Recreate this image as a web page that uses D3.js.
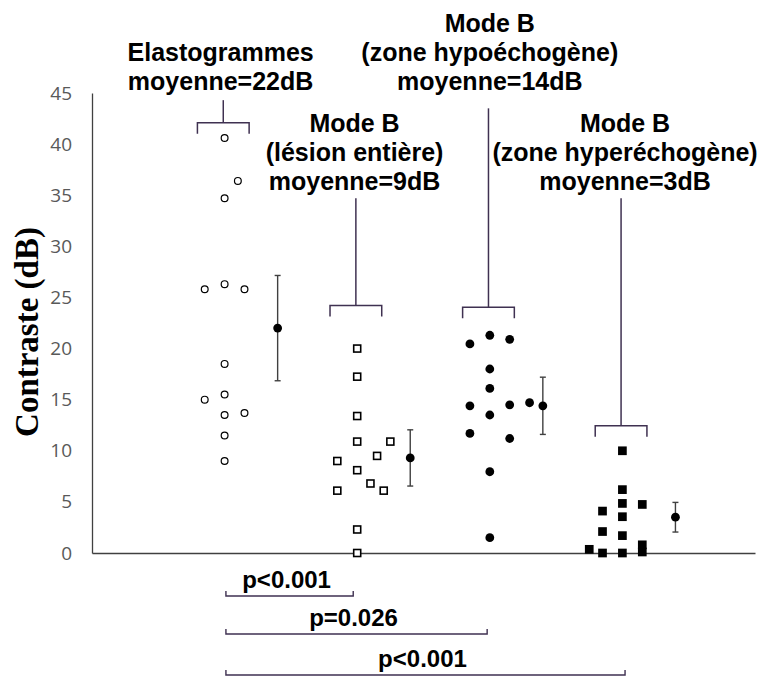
<!DOCTYPE html>
<html>
<head>
<meta charset="utf-8">
<script src="https://cdn.jsdelivr.net/npm/d3@7/dist/d3.min.js"></script>
<style>
  html, body { margin: 0; padding: 0; background: #fff; }
  svg { display: block; }
</style>
</head>
<body>
<svg id="chart" width="758" height="676"></svg>
<script>
// ---------------- DATA ----------------
const yTicks = [0, 5, 10, 15, 20, 25, 30, 35, 40, 45];
const yTitle = "Contraste (dB)";

// Elastogrammes (open circles)
const elastoX = [1.0, 1.1, 1.0, 0.85, 1.0, 1.15, 1.0, 0.85, 1.0, 1.0, 1.15, 1.0, 1.0];
const elastoY = [40.6, 36.4, 34.7, 25.8, 26.3, 25.8, 18.5, 15.0, 15.5, 13.5, 13.7, 11.5, 9.0];

// Mode B, lésion entière (open squares)
const lesionX = [2.0, 2.0, 2.0, 2.0, 2.25, 1.85, 2.15, 2.0, 2.1, 1.85, 2.2, 2.0, 2.0];
const lesionY = [20.0, 17.25, 13.4, 10.9, 10.9, 9.0, 9.5, 8.1, 6.8, 6.1, 6.1, 2.3, 0.0];

// Mode B, zone hypoéchogène (filled circles)
const hypoX = [2.85, 3.0, 3.15, 3.0, 3.0, 2.85, 3.15, 3.3, 3.0, 2.85, 3.15, 3.0, 3.0];
const hypoY = [20.45, 21.3, 20.9, 18.0, 16.1, 14.4, 14.5, 14.7, 13.5, 11.7, 11.2, 7.95, 1.5];

// Mode B, zone hyperéchogène (filled squares)
const hyperX = [4.0, 4.0, 4.0, 4.15, 3.85, 4.0, 3.85, 4.0, 4.15, 3.75, 3.85, 4.0, 4.15];
const hyperY = [10.0, 6.2, 4.85, 4.75, 4.1, 3.55, 2.1, 1.7, 0.8, 0.36, 0.0, 0.0, 0.1];

// Means with error bars
const meanX = [1.4, 2.4, 3.4, 4.4];
const meanY = [22.0, 9.3, 14.4, 3.5];
const meanErr = [5.15, 2.75, 2.8, 1.45];

// Group labels (lines), group positions, bracket levels
const groupPos = [1, 2, 3, 4];
const groupLabels = [
  ["Elastogrammes", "moyenne=22dB"],
  ["Mode B", "(lésion entière)", "moyenne=9dB"],
  ["Mode B", "(zone hypoéchogène)", "moyenne=14dB"],
  ["Mode B", "(zone hyperéchogène)", "moyenne=3dB"]
];
const bracketLevel = [42.1, 24.2, 24.05, 12.45];
const bracketStemTop = [44.3, 34.7, 43.5, 34.7];

// p-value comparisons (from group, to group, label)
const compFrom = [1, 1, 1];
const compTo = [2, 3, 4];
const compLabels = ["p<0.001", "p=0.026", "p<0.001"];

// ---------------- CHART ----------------
const svg = d3.select("#chart");
const x = d3.scaleLinear().domain([0, 5]).range([92, 755]);
const y = d3.scaleLinear().domain([0, 45]).range([553, 93]);

const axisColor = "#404040";
const bracketColor = "#3f3151";

// Y axis
const gy = svg.append("g").attr("transform", `translate(${x(0)},0)`)
  .call(d3.axisLeft(y).tickValues(yTicks).tickSize(0).tickPadding(20).tickFormat(d3.format("d")));
gy.select(".domain").attr("stroke", axisColor).attr("stroke-width", 1.3);
gy.selectAll("text").attr("font-family", "'Open Sans', sans-serif").attr("font-size", 19)
  .attr("fill", "#595959");

// X axis (line only)
const gx = svg.append("g").attr("transform", `translate(0,${y(0)})`)
  .call(d3.axisBottom(x).tickValues([]).tickSizeOuter(0));
gx.select(".domain").attr("stroke", axisColor).attr("stroke-width", 1.3);

// Y title
svg.append("text")
  .attr("transform", `translate(38,332) rotate(-90)`)
  .attr("text-anchor", "middle")
  .attr("font-family", "'Liberation Serif', 'Times New Roman', serif")
  .attr("font-weight", "bold")
  .attr("font-size", 33)
  .attr("fill", "#000")
  .text(yTitle);

// Brackets above groups
const bHalf = 0.195, bDrop = 11;
groupPos.forEach((g, i) => {
  const gc = g - 0.01;
  const yl = y(bracketLevel[i]);
  const b = svg.append("g").attr("fill", "none").attr("stroke", bracketColor).attr("stroke-width", 1.5);
  b.append("path").attr("d",
    `M${x(gc - bHalf)},${yl + bDrop} L${x(gc - bHalf)},${yl} L${x(gc + bHalf)},${yl} L${x(gc + bHalf)},${yl + bDrop}`);
  b.append("line").attr("x1", x(gc)).attr("x2", x(gc))
    .attr("y1", y(bracketStemTop[i])).attr("y2", yl);
});

// Group labels
const labelBottom = [90, 190, 90, 190];
const labelDx = [-0.03, -0.02, 0.0, 0.02];
groupLabels.forEach((lines, i) => {
  const t = svg.append("text")
    .attr("text-anchor", "middle")
    .attr("font-family", "'Liberation Sans', Arial, sans-serif")
    .attr("font-weight", "bold")
    .attr("font-size", 25)
    .attr("fill", "#000");
  lines.forEach((ln, j) => {
    t.append("tspan")
      .attr("x", x(groupPos[i] + labelDx[i]))
      .attr("y", labelBottom[i] - (lines.length - 1 - j) * 29)
      .text(ln);
  });
});

// Points
const k = "#000";
const elasto = elastoX.map((v, i) => ({ x: v, y: elastoY[i] }));
svg.append("g").selectAll("circle").data(elasto).join("circle")
  .attr("cx", d => x(d.x)).attr("cy", d => y(d.y)).attr("r", 3.4)
  .attr("fill", "#fff").attr("stroke", k).attr("stroke-width", 1.2);

const lesion = lesionX.map((v, i) => ({ x: v, y: lesionY[i] }));
svg.append("g").selectAll("rect").data(lesion).join("rect")
  .attr("x", d => x(d.x) - 3.5).attr("y", d => y(d.y) - 3.5)
  .attr("width", 7).attr("height", 7)
  .attr("fill", "#fff").attr("stroke", k).attr("stroke-width", 1.6);

const hypo = hypoX.map((v, i) => ({ x: v, y: hypoY[i] }));
svg.append("g").selectAll("circle").data(hypo).join("circle")
  .attr("cx", d => x(d.x)).attr("cy", d => y(d.y)).attr("r", 4.4)
  .attr("fill", k);

const hyper = hyperX.map((v, i) => ({ x: v, y: hyperY[i] }));
svg.append("g").selectAll("rect").data(hyper).join("rect")
  .attr("x", d => x(d.x) - 4.35).attr("y", d => y(d.y) - 4.35)
  .attr("width", 8.7).attr("height", 8.7)
  .attr("fill", k);

// Means + error bars
const means = meanX.map((v, i) => ({ x: v, y: meanY[i], e: meanErr[i] }));
const mg = svg.append("g");
means.forEach(d => {
  const cx = x(d.x), y1 = y(d.y + d.e), y2 = y(d.y - d.e);
  mg.append("line").attr("x1", cx).attr("x2", cx).attr("y1", y1).attr("y2", y2)
    .attr("stroke", axisColor).attr("stroke-width", 1.4);
  [y1, y2].forEach(yy => mg.append("line").attr("x1", cx - 3).attr("x2", cx + 3)
    .attr("y1", yy).attr("y2", yy).attr("stroke", axisColor).attr("stroke-width", 1.4));
  mg.append("circle").attr("cx", cx).attr("cy", y(d.y)).attr("r", 4.4).attr("fill", k);
});

// p-value brackets
const compY = [596, 634, 675];
const compEndAdj = [-0.03, -0.02, 0.02];
compLabels.forEach((lab, i) => {
  const x1 = x(compFrom[i] + 0.01), x2 = x(compTo[i] + compEndAdj[i]);
  const yy = compY[i];
  svg.append("path")
    .attr("d", `M${x1},${yy - 5} L${x1},${yy} L${x2},${yy} L${x2},${yy - 5}`)
    .attr("fill", "none").attr("stroke", bracketColor).attr("stroke-width", 1.4);
  svg.append("text")
    .attr("x", (x1 + x2) / 2 - 3).attr("y", yy - 8)
    .attr("text-anchor", "middle")
    .attr("font-family", "'Liberation Sans', Arial, sans-serif")
    .attr("font-weight", "bold")
    .attr("font-size", 24)
    .attr("fill", "#000")
    .text(lab);
});
</script>
</body>
</html>
